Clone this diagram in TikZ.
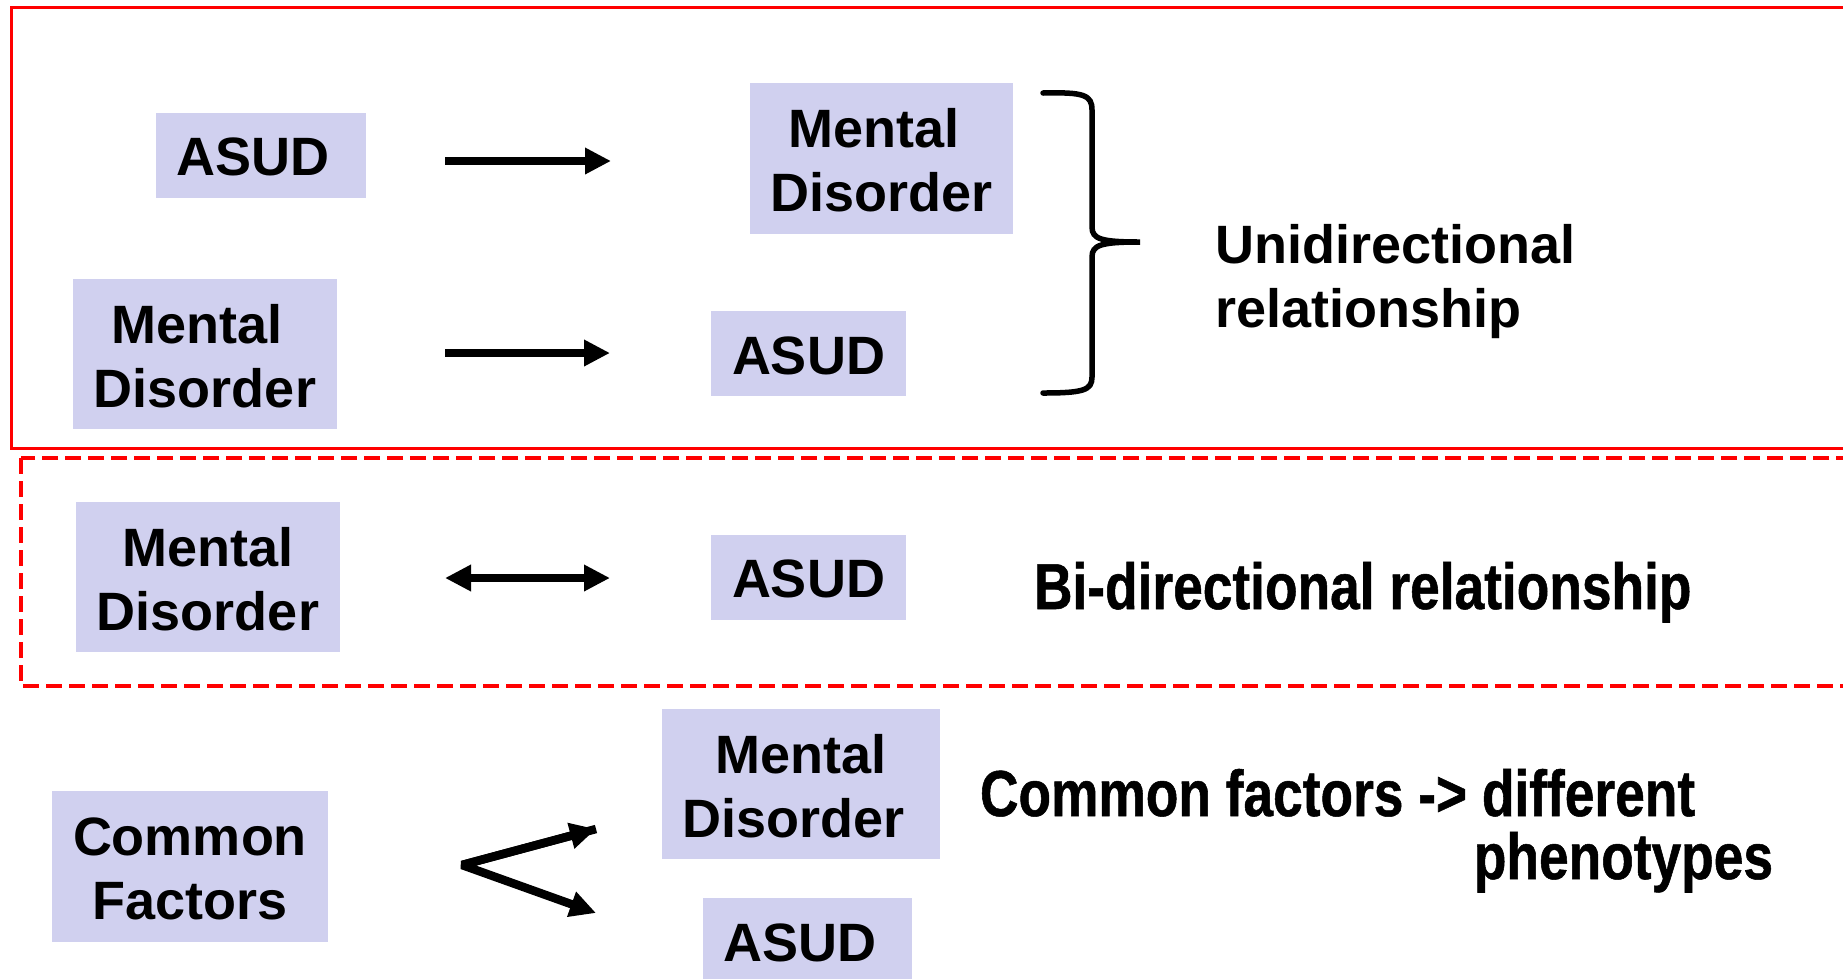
\documentclass[tikz,border=0pt]{standalone}
\usepackage{fontspec}
\setmainfont{Liberation Sans}
\newfontfamily\narrowfont{Liberation Sans}[FakeStretch=0.82, FakeBold=0.8]
\usetikzlibrary{arrows.meta}
\definecolor{boxfill}{RGB}{208,208,239}
\definecolor{framered}{RGB}{255,0,0}
% trailing word space carried over from the source layout
\newcommand{\trail}{\hspace*{0.278em}}

\begin{document}
\begin{tikzpicture}[x=1pt,y=-1pt,
  every node/.style={inner sep=0pt, outer sep=0pt},
  phenobox/.style={fill=boxfill, align=center, text height=42.5pt,
    font=\fontsize{54}{64}\selectfont\bfseries},
  tallbox/.style={phenobox, text height=107pt},
  caption/.style={font=\fontsize{54}{64}\selectfont\bfseries, anchor=base west},
  narrowcap/.style={font=\narrowfont\fontsize{65}{66}\selectfont\bfseries, anchor=base west},
  link/.style={line width=8.5pt, line join=bevel, -{Triangle[length=26pt,width=25pt]}},
  twoway/.style={line width=8.5pt, {Triangle[length=26pt,width=25pt]}-{Triangle[length=26pt,width=25pt]}},
  solidframe/.style={draw=framered, line width=3pt},
  dashframe/.style={draw=framered, line width=4pt, dash pattern=on 16pt off 7pt, line join=round},
]
\useasboundingbox (0,0) rectangle (1843,978);

% frames around the first two groups
\draw[solidframe] (11,7) rectangle (1870,448);
\draw[dashframe] (21,458) rectangle (1870,686);

% unidirectional: ASUD -> mental disorder
\node[phenobox, minimum width=210pt, minimum height=85pt] (asudA) at (261,155) {ASUD\trail};
\node[tallbox, minimum width=263pt, minimum height=151pt] (mdA) at (881.5,158.5) {Mental\trail\\Disorder};
\coordinate (a1s) at (445,161);
\coordinate (a1e) at (611,161);
\draw[link] (a1s) -- (a1e);

% unidirectional: mental disorder -> ASUD
\node[tallbox, minimum width=264pt, minimum height=150pt] (mdB) at (205,354) {Mental\trail\\Disorder};
\node[phenobox, minimum width=195pt, minimum height=85pt] (asudB) at (808.5,353.5) {ASUD};
\coordinate (a2s) at (445,353);
\coordinate (a2e) at (610,353);
\draw[link] (a2s) -- (a2e);

% brace grouping both unidirectional rows
\draw[line width=5.5pt, line cap=round]
  (1043,93) .. controls (1084,92) and (1092,95) .. (1092,110) -- (1092,227)
  .. controls (1092,239) and (1101,242) .. (1140,242)
  .. controls (1101,242) and (1092,245) .. (1092,257) -- (1092,377)
  .. controls (1092,390) and (1084,393) .. (1043,393);
\node[caption] (uni1) at (1215,263) {Unidirectional};
\node[caption] (uni2) at (1215,327) {relationship};

% bi-directional
\node[tallbox, minimum width=264pt, minimum height=150pt] (mdC) at (208,577) {Mental\\Disorder};
\node[phenobox, minimum width=195pt, minimum height=85pt] (asudC) at (808.5,577) {ASUD};
\coordinate (a3s) at (445,578);
\coordinate (a3e) at (610,578);
\draw[twoway] (a3s) -- (a3e);
\node[narrowcap] (bi) at (1034,609) {Bi-directional relationship};

% common factors
\node[tallbox, minimum width=276pt, minimum height=151pt] (cf) at (190,866.5) {Common\\Factors};
\node[tallbox, minimum width=278pt, minimum height=150pt] (mdD) at (801,784) {Mental\\Disorder\trail};
\node[phenobox, minimum width=209pt, minimum height=85pt] (asudD) at (807.5,940.5) {ASUD\trail};
\coordinate (fork) at (462,865);
\coordinate (forkup) at (596,829);
\coordinate (forkdown) at (596,913);
\draw[link] (forkup) -- (fork) -- (forkdown);
\draw[link] (fork) -- (forkup);
\node[narrowcap] (cf1) at (980,816) {Common factors -> different};
\node[narrowcap, anchor=base east] (cf2) at (1773,879) {phenotypes};
\end{tikzpicture}
\end{document}
